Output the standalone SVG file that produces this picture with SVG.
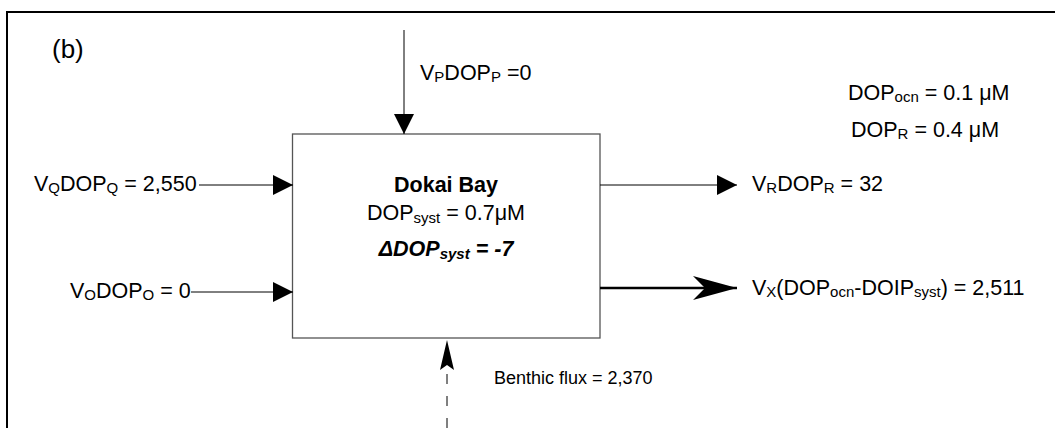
<svg xmlns="http://www.w3.org/2000/svg" width="1055" height="428" viewBox="0 0 1055 428">
<defs>
<style>
text{font-family:"Liberation Sans",Arial,sans-serif;font-size:21.5px;fill:#000}
.sub{font-size:15px}
.conn{stroke:#000;stroke-width:1;fill:none}
</style>
<marker id="tri" viewBox="0 0 20 20" refX="20" refY="10" markerWidth="20" markerHeight="20" markerUnits="userSpaceOnUse" orient="auto">
<path d="M0,0 L20,10 L0,20 Z" fill="#000"/>
</marker>
<marker id="stealth" viewBox="0 0 44 24" refX="44" refY="12" markerWidth="44" markerHeight="24" markerUnits="userSpaceOnUse" orient="auto">
<path d="M0,0 L44,12 L0,24 L12,12 Z" fill="#000"/>
</marker>
</defs>
<rect x="7" y="12" width="1070" height="440" fill="none" stroke="#000" stroke-width="2"/>
<text x="52" y="58" style="font-size:26px">(b)</text>

<g id="bay">
<rect x="292.5" y="134" width="307.5" height="204" fill="#fff" stroke="#555" stroke-width="1.3"/>
<text x="446" y="192" text-anchor="middle" font-weight="bold">Dokai Bay</text>
<text x="446" y="220" text-anchor="middle">DOP<tspan class="sub" dy="3">syst</tspan><tspan dy="-3"> = 0.7μM</tspan></text>
<text x="446" y="256" text-anchor="middle" font-weight="bold" font-style="italic">ΔDOP<tspan class="sub" dy="3">syst</tspan><tspan dy="-3"> = -7</tspan></text>
</g>

<g id="connectors">
<line class="conn" x1="404" y1="30" x2="404" y2="134" marker-end="url(#tri)"/>
<line class="conn" x1="199" y1="185" x2="293" y2="185" marker-end="url(#tri)"/>
<line class="conn" x1="191" y1="292" x2="293" y2="292" marker-end="url(#tri)"/>
<line class="conn" x1="600" y1="185" x2="737" y2="185" marker-end="url(#tri)"/>
<line class="conn" x1="600" y1="288" x2="737" y2="288" style="stroke-width:2.5" marker-end="url(#stealth)"/>
<line class="conn" x1="447" y1="428" x2="447" y2="368" stroke-dasharray="10,12"/>
<path d="M447,340 L454,370 L447,365 L440,370 Z" fill="#000"/>
</g>

<g id="label-p"><text x="420" y="80">V<tspan class="sub" dy="2">P</tspan><tspan dy="-2">DOP</tspan><tspan class="sub" dy="2">P</tspan><tspan dy="-2"> =0</tspan></text></g>
<g id="label-q"><text x="34" y="191">V<tspan class="sub" dy="2">Q</tspan><tspan dy="-2">DOP</tspan><tspan class="sub" dy="2">Q</tspan><tspan dy="-2"> = 2,550</tspan></text></g>
<g id="label-o"><text x="70" y="298">V<tspan class="sub" dy="2">O</tspan><tspan dy="-2">DOP</tspan><tspan class="sub" dy="2">O</tspan><tspan dy="-2"> = 0</tspan></text></g>
<g id="label-r"><text x="752" y="191">V<tspan class="sub" dy="2">R</tspan><tspan dy="-2">DOP</tspan><tspan class="sub" dy="2">R</tspan><tspan dy="-2"> = 32</tspan></text></g>
<g id="label-x"><text x="752" y="295">V<tspan class="sub" dy="2">X</tspan><tspan dy="-2">(DOP</tspan><tspan class="sub" dy="2">ocn</tspan><tspan dy="-2">-DOIP</tspan><tspan class="sub" dy="2">syst</tspan><tspan dy="-2">) = 2,511</tspan></text></g>
<g id="label-ocn"><text x="848" y="100">DOP<tspan class="sub" dy="2">ocn</tspan><tspan dy="-2"> = 0.1 μM</tspan></text></g>
<g id="label-dopr"><text x="851" y="137">DOP<tspan class="sub" dy="2">R</tspan><tspan dy="-2"> = 0.4 μM</tspan></text></g>
<g id="label-benthic"><text x="494" y="384" style="font-size:18px">Benthic flux = 2,370</text></g>
</svg>
